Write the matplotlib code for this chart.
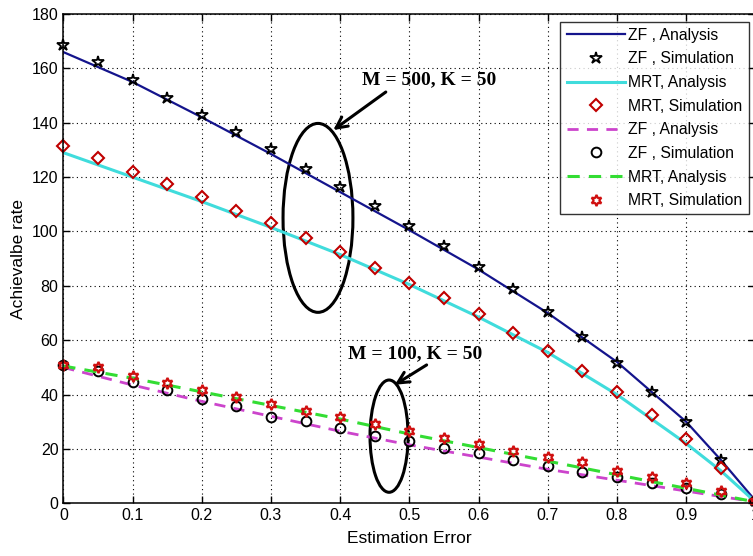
import matplotlib
matplotlib.use("Agg")
import matplotlib.pyplot as plt
from matplotlib.patches import Ellipse
import numpy as np

# x grid for simulations
x_sim = [0.0, 0.05, 0.1, 0.15, 0.2, 0.25, 0.3, 0.35, 0.4, 0.45, 0.5,
         0.55, 0.6, 0.65, 0.7, 0.75, 0.8, 0.85, 0.9, 0.95, 1.0]
# x grid for analysis curves
x_ana = [0.0, 0.1, 0.2, 0.3, 0.4, 0.5, 0.6, 0.7, 0.8, 0.9, 0.95, 1.0]

# M = 500, K = 50
zf500_ana = [166, 155, 142, 128.5, 114.5, 100.5, 86, 70, 52, 30, 16, 1]
zf500_sim = [168.5, 162.3, 155.9, 149.2, 142.8, 136.7, 130.2, 123, 116.5, 109.5, 102,
             94.5, 87, 79, 70.5, 61, 51.5, 41, 30, 16, 1]
mrt500_ana = [129, 120, 111, 101.5, 91.5, 80.5, 68.5, 55.5, 40, 22, 12, 0.5]
mrt500_sim = [131.5, 127, 122, 117.5, 112.5, 107.5, 103, 97.5, 92.5, 86.5, 81,
              75.5, 69.5, 62.5, 56, 48.5, 41, 32.5, 23.5, 13, 1]

# M = 100, K = 50
zf100_ana = [50, 43.5, 37.5, 32, 26.5, 21.5, 17, 12.5, 8.5, 4.5, 2.5, 0.5]
zf100_sim = [50.9, 48.8, 44.8, 41.7, 38.4, 35.8, 31.7, 30.4, 27.7, 24.9, 22.8,
             20.5, 18.4, 15.8, 13.7, 11.4, 9.6, 7.4, 5.5, 3.6, 1]
mrt100_ana = [50.5, 46, 41, 36, 31, 25.5, 20.5, 15.5, 10.5, 5.5, 3, 0.5]
mrt100_sim = [51, 50, 47, 44.3, 41.7, 39, 36.6, 33.9, 31.7, 29, 26.7,
              24, 21.8, 19.4, 16.9, 15.1, 12, 9.8, 7.4, 4.4, 1]

xticks = [0, 0.1, 0.2, 0.3, 0.4, 0.5, 0.6, 0.7, 0.8, 0.9, 1]
xticklabels = ["0", "0.1", "0.2", "0.3", "0.4", "0.5", "0.6", "0.7", "0.8", "0.9", "1"]
yticks = [0, 20, 40, 60, 80, 100, 120, 140, 160, 180]

plt.rcParams['font.family'] = ['Liberation Sans', 'DejaVu Sans']

fig = plt.figure(figsize=(7.53, 5.56), dpi=100)
ax = fig.add_axes([0.0841, 0.0948, 0.919, 0.880])

ax.plot(x_ana, zf500_ana, color='#14148c', lw=1.6, label='ZF , Analysis')
ax.plot(x_sim, zf500_sim, ls='none', marker='*', ms=9, mfc='none', mec='black',
        mew=1.3, label='ZF , Simulation', clip_on=False)
ax.plot(x_ana, mrt500_ana, color='#40dcdc', lw=2.2, label='MRT, Analysis')
ax.plot(x_sim, mrt500_sim, ls='none', marker='D', ms=6.5, mfc='none', mec='#c00000',
        mew=1.5, label='MRT, Simulation', clip_on=False)
ax.plot(x_ana, zf100_ana, color='#cc44cc', lw=2.0, ls=(0, (4, 3)), label='ZF , Analysis')
ax.plot(x_sim, zf100_sim, ls='none', marker='o', ms=7, mfc='none', mec='black',
        mew=1.4, label='ZF , Simulation', clip_on=False)
ax.plot(x_ana, mrt100_ana, color='#33dd33', lw=2.2, ls=(0, (4, 3)), label='MRT, Analysis')
ax.plot(x_sim, mrt100_sim, ls='none', marker=(6, 1, 0), ms=8, mfc='none', mec='#d01010',
        mew=1.6, label='MRT, Simulation', clip_on=False)

ax.set_xlim(0, 1)
ax.set_ylim(0, 180)
ax.set_xticks(xticks)
ax.set_xticklabels(xticklabels)
ax.set_yticks(yticks)
ax.tick_params(direction='in', top=True, right=True, labelsize=11.5, length=5, width=1)
ax.grid(True, color='black', ls=(0, (1, 3)), lw=0.8)
for s in ax.spines.values():
    s.set_linewidth(1.1)

ax.set_xlabel('Estimation Error', fontsize=12.5, labelpad=6)
ax.set_ylabel('Achievalbe rate', fontsize=12.5, labelpad=4)

leg = ax.legend(loc='upper right', fontsize=11.3, frameon=True, fancybox=False,
                edgecolor='black', handlelength=3.7, borderpad=0.4,
                labelspacing=0.55, handletextpad=0.2, borderaxespad=0.0,
                bbox_to_anchor=(748.5 / 753, 1 - 21.5 / 556),
                bbox_transform=fig.transFigure)
leg.get_frame().set_linewidth(1.0)
leg.set_zorder(5)

# annotations
ax.add_patch(Ellipse((0.368, 105), 0.101, 69.5, fill=False, ec='black', lw=2.2))
ax.text(0.528, 155.9, 'M = 500, K = 50', ha='center', va='center', fontsize=14,
        fontweight='bold', family='Liberation Serif')
ax.annotate('', xy=(0.390, 137.3), xytext=(0.466, 151.3),
            arrowprops=dict(arrowstyle='->', lw=2.2, color='black',
                            shrinkA=0, shrinkB=0, mutation_scale=20))
ax.add_patch(Ellipse((0.4707, 24.7), 0.055, 41.3, fill=False, ec='black', lw=2.2))
ax.text(0.508, 54.9, 'M = 100, K = 50', ha='center', va='center', fontsize=14,
        fontweight='bold', family='Liberation Serif')
ax.annotate('', xy=(0.479, 43.6), xytext=(0.525, 50.9),
            arrowprops=dict(arrowstyle='->', lw=2.2, color='black',
                            shrinkA=0, shrinkB=0, mutation_scale=20))

fig.savefig('out.png', dpi=100)
